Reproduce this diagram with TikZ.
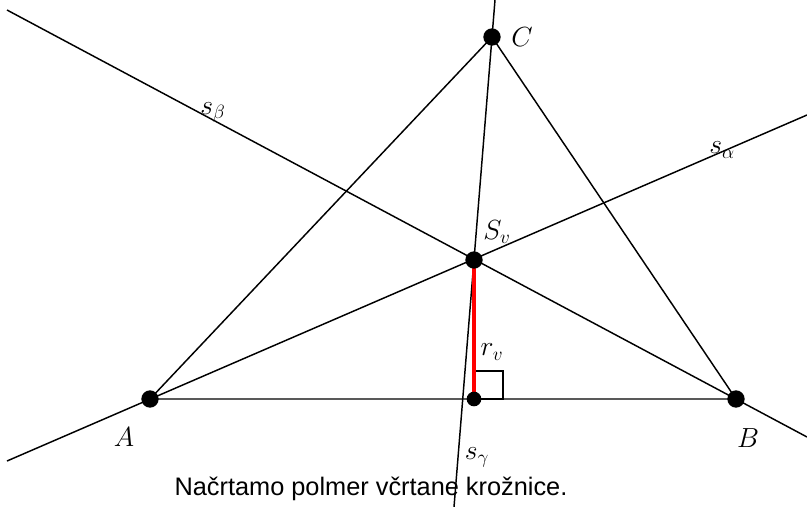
\documentclass[tikz,border=0pt]{standalone}
\usepackage{fontspec}
\newfontfamily\capfont{Liberation Sans}
\usetikzlibrary{backgrounds}
\begin{document}
\begin{tikzpicture}[
  x=0.75pt, y=-0.75pt,
  dot/.style={circle, fill=black, inner sep=0pt, minimum size=13pt},
  footdot/.style={circle, fill=black, inner sep=0pt, minimum size=11pt},
  lab/.style={font=\fontsize{20}{22}\selectfont},
  ray/.style={line width=1.1pt}
]
\useasboundingbox (0,0) rectangle (807,507);
\foreach \n/\x/\y in {A/150/399,B/736/399,C/492/37,Sv/474/260,N/474/399} {
  \coordinate (\n) at (\x,\y);
}
\foreach \n/\x/\y in {sb1/7/10,sb2/807/437,sa1/7/461,sa2/807/115,sg1/495/0,sg2/454/507,R1/474/371,R2/503/399} {
  \coordinate (\n) at (\x,\y);
}
\begin{scope}[on background layer]
\draw[ray] (A) -- (B) -- (C) -- cycle;
\draw[ray] (sb1) -- (sb2);
\draw[ray] (sa1) -- (sa2);
\draw[ray] (sg1) -- (sg2);
\draw[line width=1pt] (R1) rectangle (R2);
\draw[red, line width=2.3pt] (Sv) -- (N);
\end{scope}
\foreach \n in {A,B,C,Sv} {
  \node[dot] (\n dot) at (\n) {};
}
\node[footdot] (N dot) at (N) {};
\node[lab] (lA) at (124,437) {$A$};
\node[lab] (lB) at (748,438) {$B$};
\node[lab] (lC) at (522,37) {$C$};
\node[lab] (lSv) at (497,232) {$S_v$};
\node[lab] (lrv) at (492,352) {$r_v$};
\node[lab] (lsb) at (213,112) {$s_\beta$};
\node[lab] (lsa) at (722,150) {$s_\alpha$};
\node[lab] (lsg) at (477,457) {$s_\gamma$};
\node[anchor=base, font=\capfont\fontsize{19}{22}\selectfont] (cap) at (371,495) {Načrtamo polmer včrtane krožnice.};
\end{tikzpicture}
\end{document}
